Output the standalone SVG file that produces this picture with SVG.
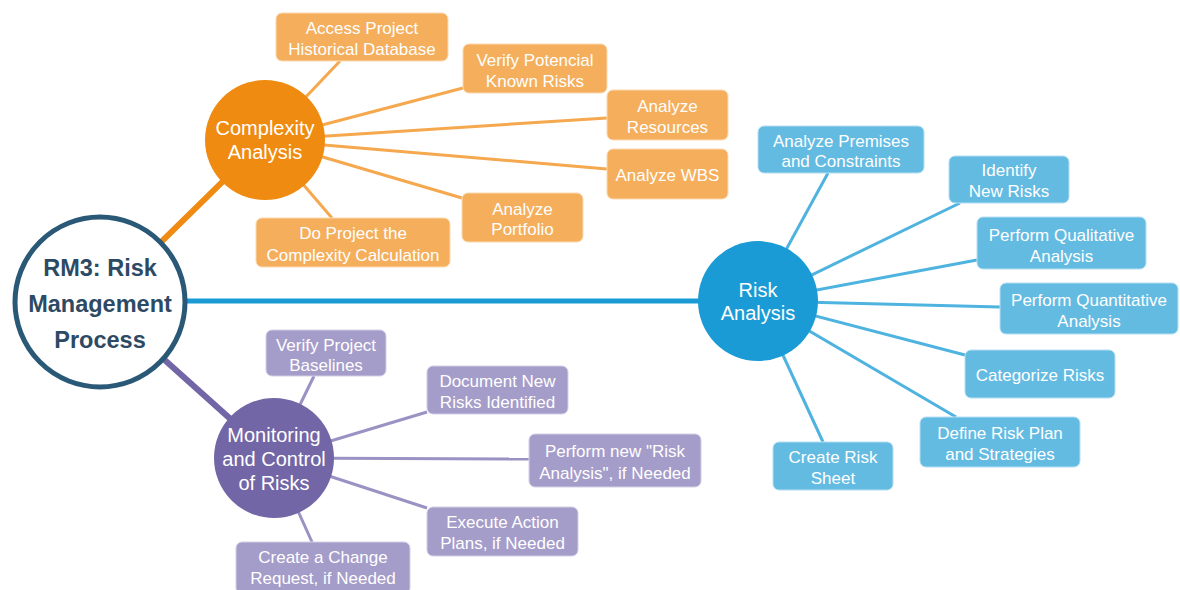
<svg xmlns="http://www.w3.org/2000/svg" width="1180" height="590" viewBox="0 0 1180 590">
<style>
text{font-family:"Liberation Sans",Arial,sans-serif;text-anchor:middle;fill:#fff}
.bt{font-size:17px}
.ct{font-size:20px}
.mt{font-size:23.5px;font-weight:bold;fill:#2d4a65}
.ob{fill:#f4ae5c;stroke:#fbd9b0;stroke-width:1}
.bb{fill:#63bbe2;stroke:#b5def2;stroke-width:1}
.pb{fill:#a49cc9;stroke:#d4cfe6;stroke-width:1}
.ol{stroke:#f5a84e;stroke-width:3;fill:none}
.bl{stroke:#4fb3e0;stroke-width:3;fill:none}
.pl{stroke:#9b92c4;stroke-width:3;fill:none}
</style>
<rect width="1180" height="590" fill="#fff"/>
<g id="connectors">
<line x1="100" y1="302" x2="265" y2="140" stroke="#ef8a12" stroke-width="6"/>
<line x1="100" y1="301" x2="758" y2="301" stroke="#1a9bd5" stroke-width="5"/>
<line x1="100" y1="302" x2="274" y2="458" stroke="#7366a6" stroke-width="6"/>
<line class="ol" x1="265" y1="140" x2="340" y2="61"/>
<line class="ol" x1="265" y1="140" x2="463" y2="88"/>
<line class="ol" x1="265" y1="140" x2="607" y2="118"/>
<line class="ol" x1="265" y1="140" x2="607" y2="169"/>
<line class="ol" x1="265" y1="140" x2="462" y2="198"/>
<line class="ol" x1="265" y1="140" x2="332" y2="218"/>
<line class="bl" x1="758" y1="301" x2="828" y2="173"/>
<line class="bl" x1="758" y1="301" x2="960" y2="203"/>
<line class="bl" x1="758" y1="301" x2="977" y2="260"/>
<line class="bl" x1="758" y1="301" x2="1000" y2="307"/>
<line class="bl" x1="758" y1="301" x2="965" y2="355"/>
<line class="bl" x1="758" y1="301" x2="956" y2="417"/>
<line class="bl" x1="758" y1="301" x2="823" y2="442"/>
<line class="pl" x1="274" y1="458" x2="314" y2="376"/>
<line class="pl" x1="274" y1="458" x2="427" y2="412"/>
<line class="pl" x1="274" y1="458" x2="529" y2="459"/>
<line class="pl" x1="274" y1="458" x2="427" y2="508"/>
<line class="pl" x1="274" y1="458" x2="312" y2="542"/>
</g>
<g id="main">
<circle cx="100" cy="302" r="85" fill="#fff" stroke="#2a5877" stroke-width="5"/>
<text class="mt" x="100" y="276">RM3: Risk</text>
<text class="mt" x="100" y="312">Management</text>
<text class="mt" x="100" y="348">Process</text>
</g>
<g id="complexity">
<circle cx="265" cy="140" r="60" fill="#ef8b10"/>
<text class="ct" x="265" y="135">Complexity</text>
<text class="ct" x="265" y="159">Analysis</text>
</g>
<g id="risk-analysis">
<circle cx="758" cy="301" r="60" fill="#1a9bd5"/>
<text class="ct" x="758" y="297">Risk</text>
<text class="ct" x="758" y="320">Analysis</text>
</g>
<g id="monitoring">
<circle cx="274" cy="458" r="60" fill="#7366a6"/>
<text class="ct" x="274" y="442">Monitoring</text>
<text class="ct" x="274" y="466">and Control</text>
<text class="ct" x="274" y="490">of Risks</text>
</g>
<g id="o1"><rect class="ob" x="276" y="13" width="172" height="48" rx="6"/><text class="bt" x="362" y="34">Access Project</text><text class="bt" x="362" y="55">Historical Database</text></g>
<g id="o2"><rect class="ob" x="463" y="44" width="144" height="49" rx="6"/><text class="bt" x="535" y="66">Verify Potencial</text><text class="bt" x="535" y="87">Known Risks</text></g>
<g id="o3"><rect class="ob" x="607" y="90" width="121" height="50" rx="6"/><text class="bt" x="667.5" y="112">Analyze</text><text class="bt" x="667.5" y="133">Resources</text></g>
<g id="o4"><rect class="ob" x="607" y="149" width="121" height="50" rx="6"/><text class="bt" x="667.5" y="181">Analyze WBS</text></g>
<g id="o5"><rect class="ob" x="462" y="193" width="121" height="49" rx="6"/><text class="bt" x="522.5" y="215">Analyze</text><text class="bt" x="522.5" y="235">Portfolio</text></g>
<g id="o6"><rect class="ob" x="256" y="218" width="194" height="49" rx="6"/><text class="bt" x="353" y="239">Do Project the</text><text class="bt" x="353" y="261">Complexity Calculation</text></g>
<g id="b1"><rect class="bb" x="758" y="126" width="166" height="47" rx="6"/><text class="bt" x="841" y="147">Analyze Premises</text><text class="bt" x="841" y="167">and Constraints</text></g>
<g id="b2"><rect class="bb" x="949" y="156" width="120" height="47" rx="6"/><text class="bt" x="1009" y="176">Identify</text><text class="bt" x="1009" y="197">New Risks</text></g>
<g id="b3"><rect class="bb" x="977" y="217" width="169" height="52" rx="6"/><text class="bt" x="1061.5" y="241">Perform Qualitative</text><text class="bt" x="1061.5" y="262">Analysis</text></g>
<g id="b4"><rect class="bb" x="1000" y="283" width="178" height="51" rx="6"/><text class="bt" x="1089" y="306">Perform Quantitative</text><text class="bt" x="1089" y="327">Analysis</text></g>
<g id="b5"><rect class="bb" x="965" y="350" width="150" height="48" rx="6"/><text class="bt" x="1040" y="381">Categorize Risks</text></g>
<g id="b6"><rect class="bb" x="920" y="417" width="160" height="50" rx="6"/><text class="bt" x="1000" y="439">Define Risk Plan</text><text class="bt" x="1000" y="460">and Strategies</text></g>
<g id="b7"><rect class="bb" x="773" y="442" width="120" height="48" rx="6"/><text class="bt" x="833" y="463">Create Risk</text><text class="bt" x="833" y="484">Sheet</text></g>
<g id="p1"><rect class="pb" x="266" y="330" width="120" height="46" rx="6"/><text class="bt" x="326" y="351">Verify Project</text><text class="bt" x="326" y="371">Baselines</text></g>
<g id="p2"><rect class="pb" x="427" y="366" width="141" height="48" rx="6"/><text class="bt" x="497.5" y="387">Document New</text><text class="bt" x="497.5" y="408">Risks Identified</text></g>
<g id="p3"><rect class="pb" x="529" y="434" width="172" height="53" rx="6"/><text class="bt" x="615" y="457">Perform new "Risk</text><text class="bt" x="615" y="479">Analysis", if Needed</text></g>
<g id="p4"><rect class="pb" x="427" y="507" width="151" height="49" rx="6"/><text class="bt" x="502.5" y="528">Execute Action</text><text class="bt" x="502.5" y="549">Plans, if Needed</text></g>
<g id="p5"><rect class="pb" x="236" y="542" width="174" height="52" rx="6"/><text class="bt" x="323" y="563">Create a Change</text><text class="bt" x="323" y="584">Request, if Needed</text></g>
</svg>
